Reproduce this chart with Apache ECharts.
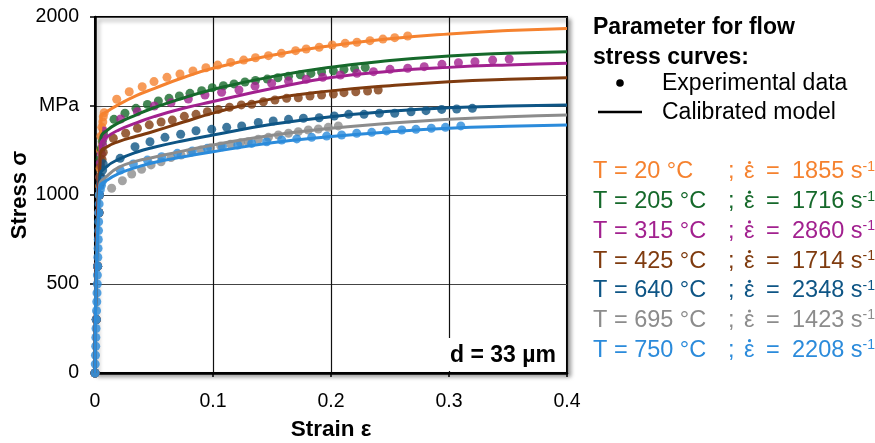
<!DOCTYPE html>
<html>
<head>
<meta charset="utf-8">
<script src="https://cdn.jsdelivr.net/npm/echarts@6/dist/echarts.min.js"></script>
<style>
  html, body { margin: 0; padding: 0; background: #fff; }
  #chart { width: 875px; height: 443px; }
</style>
</head>
<body>
<div id="chart"></div>
<script>
const FONT = 'Arial, "Liberation Sans", sans-serif';

// legend / series parameters
const temps = [20, 205, 315, 425, 640, 695, 750];
const rates = [1855, 1716, 2860, 1714, 2348, 1423, 2208];
const colors = ['#F5822F', '#16692B', '#A2218F', '#7F3B0F', '#0E5585', '#8C8C8C', '#2B8BDB'];

// tick labels
const xTickLabels = ['0', '0.1', '0.2', '0.3', '0.4'];
const yTickLabels = ['0', '500', '1000', 'MPa', '2000'];

// experimental points [strain, stress]
const exp20 = [[0,0],[0.0011,300],[0.0022,600],[0.0033,900],[0.0039,1050],[0.0043,1150],[0.0046,1250],[0.005,1330],[0.0058,1380],[0.0066,1410],[0.007,1440],[0.0078,1462],
  [0.0184,1538],[0.029,1580],[0.040,1608],[0.050,1637],[0.061,1661],[0.072,1680],[0.083,1697],[0.094,1715],[0.104,1730],[0.115,1745],[0.126,1758],[0.136,1771],
  [0.147,1783],[0.158,1796],[0.170,1811],[0.179,1820],[0.190,1830],[0.201,1843],[0.212,1852],[0.222,1858],[0.233,1867],[0.244,1876],[0.254,1884],[0.265,1893]];
const exp205 = [[0,0],[0.0011,300],[0.0022,600],[0.0033,900],[0.0037,1000],[0.0041,1100],[0.0044,1200],[0.0052,1260],[0.0062,1300],[0.0072,1340],
  [0.0161,1425],[0.0254,1459],[0.0347,1487],[0.0444,1509],[0.0537,1528],[0.0627,1543],[0.0715,1556],[0.0805,1571],[0.0904,1586],[0.0994,1603],[0.1088,1614],
  [0.1178,1624],[0.1271,1635],[0.136,1643],[0.146,1651],[0.155,1659],[0.164,1667],[0.174,1675],[0.183,1683],[0.192,1691],[0.202,1698],[0.211,1705],[0.220,1710],[0.229,1716]];
const exp315 = [[0,0],[0.0011,300],[0.0022,600],[0.0033,900],[0.0037,1000],[0.0041,1100],[0.0045,1180],[0.0055,1230],[0.0065,1280],[0.007,1320],[0.0072,1360],
  [0.0217,1427],[0.0359,1468],[0.0503,1500],[0.0644,1518],[0.0791,1539],[0.0932,1562],[0.1073,1577],[0.122,1590],[0.1356,1612],[0.1497,1627],[0.164,1640],
  [0.179,1650],[0.193,1661],[0.208,1674],[0.222,1684],[0.236,1693],[0.250,1706],[0.265,1712],[0.279,1721],[0.294,1734],[0.308,1743],[0.322,1749],[0.337,1758],[0.351,1764]];
const exp425 = [[0,0],[0.0011,300],[0.0022,600],[0.0033,900],[0.0037,1000],[0.0041,1100],[0.005,1160],[0.006,1200],[0.007,1240],
  [0.0155,1319],[0.026,1347],[0.036,1375],[0.046,1394],[0.056,1410],[0.0655,1421],[0.0757,1442],[0.0856,1453],[0.0952,1468],[0.1045,1481],[0.114,1493],[0.124,1506],
  [0.1328,1510],[0.1427,1524],[0.1525,1534],[0.1624,1543],[0.1723,1546],[0.1822,1556],[0.192,1562],[0.202,1567],[0.211,1575],[0.221,1580],[0.231,1584],[0.240,1590]];
const exp640 = [[0,0],[0.0011,300],[0.0022,600],[0.0033,900],[0.0037,1000],[0.0045,1060],[0.0055,1100],[0.0065,1140],[0.007,1175],
  [0.0213,1206],[0.0339,1271],[0.0466,1299],[0.0593,1324],[0.0726,1341],[0.0856,1361],[0.0989,1369],[0.1116,1380],[0.1243,1388],[0.1384,1408],[0.151,1416],
  [0.164,1425],[0.1766,1431],[0.190,1434],[0.2028,1444],[0.215,1453],[0.228,1453],[0.241,1459],[0.254,1459],[0.2678,1468],[0.2805,1474],[0.2938,1481],[0.3065,1483],[0.3198,1487]];
const exp695 = [[0,0],[0.0011,300],[0.0022,600],[0.0033,900],[0.0037,1000],
  [0.0141,1038],[0.0232,1080],[0.0311,1118],[0.0395,1144],[0.0475,1169],[0.056,1187],[0.0644,1210],[0.0729,1225],[0.0814,1240],[0.0898,1253],[0.098,1266],
  [0.1065,1275],[0.115,1285],[0.1234,1294],[0.1299,1299],[0.1384,1313],[0.147,1324],[0.1554,1337],[0.164,1347],[0.1723,1356],[0.1808,1365],[0.1893,1371],[0.1977,1380],[0.2062,1388]];
const exp750 = [[0,0],[0.0002,50],[0.0004,100],[0.0006,150],[0.0007,200],[0.0009,250],[0.0011,300],[0.0013,350],[0.0015,400],[0.0017,450],[0.0019,500],
  [0.002,550],[0.0022,600],[0.0024,650],[0.0026,700],[0.0028,750],[0.003,800],[0.0031,850],[0.0033,900],[0.0035,950],[0.0037,1000],[0.0045,1030],[0.0055,1055],[0.0065,1080],
  [0.0214,1140],[0.0325,1174],[0.0444,1196],[0.0565,1215],[0.0698,1234],[0.0825,1247],[0.0952,1262],[0.108,1271],[0.121,1281],[0.1328,1290],[0.1455,1299],
  [0.1582,1309],[0.171,1315],[0.1836,1324],[0.1963,1331],[0.209,1337],[0.2218,1347],[0.2345,1352],[0.247,1360],[0.260,1365],[0.272,1369],[0.285,1375],[0.297,1380],[0.310,1388]];

// calibrated model curves [strain, stress]
const model20 = [[0,0],[0.0053,1440],[0.01,1468],[0.02,1508],[0.035,1558],[0.05,1598],[0.075,1660],[0.1,1712],[0.15,1785],[0.2,1839],[0.25,1878],[0.3,1905],[0.35,1924],[0.4,1936]];
const model205 = [[0,0],[0.0049,1320],[0.01,1362],[0.02,1405],[0.035,1450],[0.05,1490],[0.075,1545],[0.1,1593],[0.15,1665],[0.2,1718],[0.25,1755],[0.3,1781],[0.35,1796],[0.4,1805]];
const model315 = [[0,0],[0.0048,1285],[0.01,1325],[0.02,1365],[0.035,1405],[0.05,1440],[0.075,1487],[0.1,1525],[0.15,1598],[0.2,1660],[0.25,1695],[0.3,1717],[0.35,1731],[0.4,1740]];
const model425 = [[0,0],[0.0046,1235],[0.01,1270],[0.02,1300],[0.035,1330],[0.05,1358],[0.075,1410],[0.1,1460],[0.15,1540],[0.2,1585],[0.25,1614],[0.3,1636],[0.35,1650],[0.4,1659]];
const model640 = [[0,0],[0.0041,1105],[0.01,1160],[0.02,1200],[0.035,1240],[0.05,1268],[0.075,1305],[0.1,1337],[0.15,1397],[0.2,1440],[0.25,1470],[0.3,1490],[0.35,1500],[0.4,1506]];
const model695 = [[0,0],[0.0039,1055],[0.01,1105],[0.02,1155],[0.035,1190],[0.05,1212],[0.075,1248],[0.1,1281],[0.15,1336],[0.2,1375],[0.25,1403],[0.3,1425],[0.35,1440],[0.4,1449]];
const model750 = [[0,0],[0.0039,1040],[0.01,1082],[0.02,1120],[0.035,1155],[0.05,1183],[0.075,1215],[0.1,1243],[0.15,1293],[0.2,1328],[0.25,1355],[0.3,1375],[0.35,1386],[0.4,1393]];

const expData = [exp20, exp205, exp315, exp425, exp640, exp695, exp750];
const modelData = [model20, model205, model315, model425, model640, model695, model750];

const chart = echarts.init(document.getElementById('chart'));

const series = [];
expData.forEach((d, i) => {
  series.push({
    name: 'exp' + temps[i],
    type: 'scatter',
    data: d,
    symbol: 'circle',
    symbolSize: 9,
    itemStyle: { color: colors[i] },
    silent: true
  });
  series.push({
    name: 'model' + temps[i],
    type: 'line',
    data: modelData[i],
    showSymbol: false,
    smooth: 0.5,
    lineStyle: { color: colors[i], width: 3 },
    silent: true
  });
});

// legend text on the right
const graphics = [
  { type: 'text', x: 593, y: 28, style: { text: 'Parameter for flow', font: 'bold 23px ' + FONT, fill: '#000', verticalAlign: 'middle' } },
  { type: 'text', x: 593, y: 58, style: { text: 'stress curves:', font: 'bold 23px ' + FONT, fill: '#000', verticalAlign: 'middle' } },
  { type: 'circle', shape: { cx: 620, cy: 83, r: 3.8 }, style: { fill: '#000' } },
  { type: 'text', x: 662, y: 84, style: { text: 'Experimental data', font: '23px ' + FONT, fill: '#000', verticalAlign: 'middle' } },
  { type: 'line', shape: { x1: 598, y1: 112, x2: 642, y2: 112 }, style: { stroke: '#000', lineWidth: 2.5 } },
  { type: 'text', x: 662, y: 113, style: { text: 'Calibrated model', font: '23px ' + FONT, fill: '#000', verticalAlign: 'middle' } },
  // d = 33 µm box
  { type: 'rect', z: 5, shape: { x: 443, y: 338, width: 120, height: 33 }, style: { fill: '#fff' } },
  { type: 'text', z: 6, x: 556, y: 356, style: { text: 'd = 33 µm', font: 'bold 23px ' + FONT, fill: '#000', align: 'right', verticalAlign: 'middle' } }
];

temps.forEach((t, i) => {
  const y = 172 + i * 29.7;
  const c = colors[i];
  const f = '23.5px ' + FONT;
  graphics.push({ type: 'text', x: 593, y: y, style: { text: 'T = ' + t + ' °C', font: f, fill: c, verticalAlign: 'middle' } });
  graphics.push({ type: 'text', x: 728, y: y, style: { text: ';', font: f, fill: c, verticalAlign: 'middle' } });
  graphics.push({ type: 'text', x: 744, y: y, style: { text: '\u03B5', font: f, fill: c, verticalAlign: 'middle' } });
  graphics.push({ type: 'circle', shape: { cx: 749.5, cy: y - 9.5, r: 1.6 }, style: { fill: c } });
  graphics.push({ type: 'text', x: 766, y: y, style: { text: '=', font: f, fill: c, verticalAlign: 'middle' } });
  graphics.push({
    type: 'text', x: 792, y: y,
    style: {
      text: rates[i] + ' s{sup|-1}',
      font: f, fill: c, verticalAlign: 'middle',
      rich: { sup: { fontSize: 14, fontFamily: FONT, fill: c, verticalAlign: 'top', padding: [0, 0, 10, 0] } }
    }
  });
});

chart.setOption({
  animation: false,
  backgroundColor: '#fff',
  grid: {
    left: 95, right: 308, top: 17, bottom: 70,
    containLabel: false,
    outerBoundsMode: 'none',
    show: true,
    backgroundColor: '#fff',
    borderColor: '#000',
    borderWidth: 2,
    shadowColor: 'rgba(0,0,0,0.35)',
    shadowBlur: 4,
    shadowOffsetX: 3,
    shadowOffsetY: 3
  },
  xAxis: {
    type: 'value',
    min: 0, max: 0.4, interval: 0.1,
    name: 'Strain ε',
    nameLocation: 'middle',
    nameGap: 45,
    nameMoveOverlap: false,
    nameTextStyle: { fontFamily: FONT, fontWeight: 'bold', fontSize: 22.5, color: '#000' },
    axisLine: { show: true, onZero: false, lineStyle: { color: '#000', width: 2.5 } },
    axisTick: { show: true, length: 4, lineStyle: { color: '#000', width: 1.5 } },
    axisLabel: {
      margin: 19, fontFamily: FONT, fontSize: 19.5, color: '#000',
      formatter: (v) => xTickLabels[Math.round(v * 10)]
    },
    splitLine: { show: true, lineStyle: { color: '#111', width: 1.2 } }
  },
  yAxis: {
    type: 'value',
    min: 0, max: 2000, interval: 500,
    name: 'Stress σ',
    nameLocation: 'middle',
    nameGap: 64,
    nameMoveOverlap: false,
    nameTextStyle: { fontFamily: FONT, fontWeight: 'bold', fontSize: 22, color: '#000' },
    axisLine: { show: true, onZero: false, lineStyle: { color: '#000', width: 2.5 } },
    axisTick: { show: true, length: 5, lineStyle: { color: '#000', width: 1.5 } },
    axisLabel: {
      margin: 16, fontFamily: FONT, fontSize: 19.5, color: '#000',
      formatter: (v) => yTickLabels[Math.round(v / 500)]
    },
    splitLine: { show: true, lineStyle: { color: '#444', width: 1.2 } }
  },
  graphic: graphics,
  series: series
});
</script>
</body>
</html>
